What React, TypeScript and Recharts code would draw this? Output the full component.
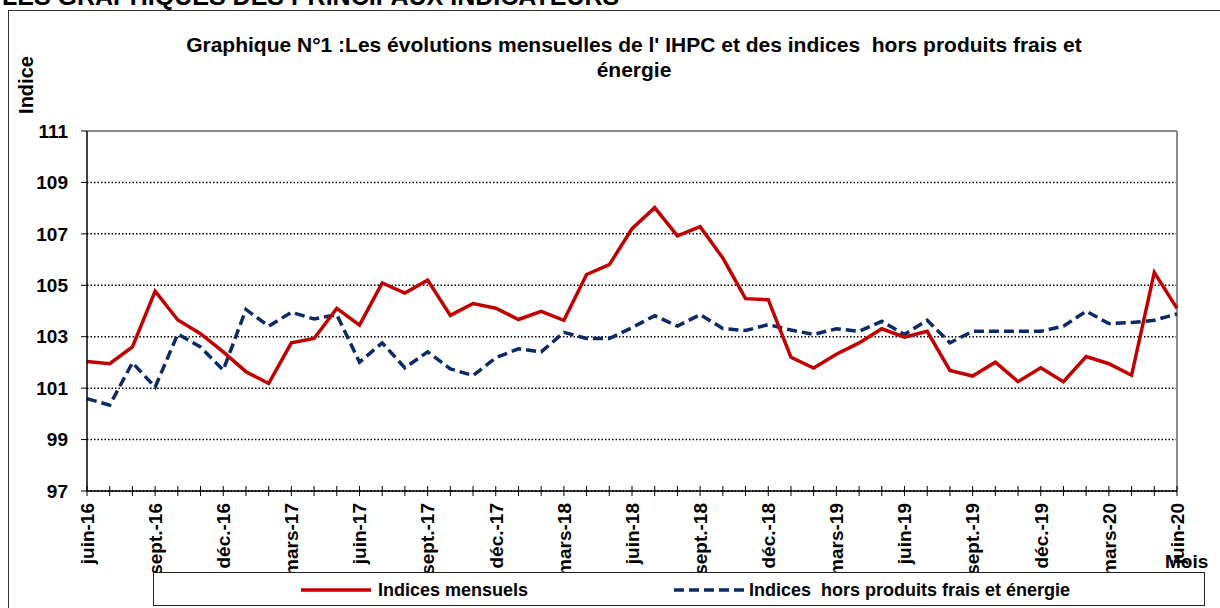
import React from "react";
import { LineChart, Line, XAxis, YAxis, CartesianGrid, ReferenceLine } from "recharts";

const months = [
  "juin-16", "juil.-16", "août-16", "sept.-16", "oct.-16", "nov.-16", "déc.-16",
  "janv.-17", "févr.-17", "mars-17", "avr.-17", "mai-17", "juin-17", "juil.-17", "août-17", "sept.-17", "oct.-17", "nov.-17", "déc.-17",
  "janv.-18", "févr.-18", "mars-18", "avr.-18", "mai-18", "juin-18", "juil.-18", "août-18", "sept.-18", "oct.-18", "nov.-18", "déc.-18",
  "janv.-19", "févr.-19", "mars-19", "avr.-19", "mai-19", "juin-19", "juil.-19", "août-19", "sept.-19", "oct.-19", "nov.-19", "déc.-19",
  "janv.-20", "févr.-20", "mars-20", "avr.-20", "mai-20", "juin-20",
];

const indicesMensuels = [
  102.04, 101.95, 102.6, 104.77, 103.65, 103.12, 102.41, 101.64, 101.18, 102.76, 102.93, 104.1, 103.45, 105.09, 104.7, 105.2, 103.83,
  104.29, 104.11, 103.67, 103.99, 103.64, 105.42, 105.8, 107.2, 108.02, 106.92, 107.28, 106.06, 104.48, 104.44, 102.2, 101.78,
  102.32, 102.76, 103.31, 102.98, 103.21, 101.69, 101.47, 102.01, 101.25, 101.79, 101.25, 102.23, 101.95, 101.5, 105.5, 104.1,
];

const indicesHorsPFE = [
  100.59, 100.34, 101.99, 101.04, 103.11, 102.6, 101.7, 104.06, 103.41, 103.95, 103.69, 103.86, 102.01, 102.76, 101.79, 102.41, 101.75,
  101.49, 102.18, 102.53, 102.41, 103.17, 102.93, 102.93, 103.35, 103.82, 103.41, 103.86, 103.32, 103.24, 103.47, 103.26, 103.09,
  103.31, 103.21, 103.6, 103.09, 103.64, 102.76, 103.21, 103.21, 103.21, 103.21, 103.41, 103.99, 103.51, 103.55, 103.64, 103.89,
];

const yTicks = [97, 99, 101, 103, 105, 107, 109, 111];

const seriesNames = ["Indices mensuels", "Indices  hors produits frais et énergie"];

const data = months.map((m, i) => ({
  mois: m,
  mensuel: indicesMensuels[i],
  hors: indicesHorsPFE[i],
}));

const FONT = "'Liberation Sans', Arial, sans-serif";
const RED = "#C00000";
const BLUE = "#0B2A66";

const XTick = (props: any) => {
  const { x, y, payload } = props;
  const idx = months.indexOf(payload.value);
  const ty = y + 12;
  return (
    <g>
      <line x1={x} x2={x} y1={y - 5} y2={y + 5} stroke="#000" strokeWidth={1} />
      {idx % 3 === 0 && (
        <text
          x={x}
          y={ty}
          dy="0.36em"
          textAnchor="end"
          transform={`rotate(-90, ${x}, ${ty})`}
          fontFamily={FONT}
          fontWeight="bold"
          fontSize={19}
          fill="#000"
        >
          {payload.value}
        </text>
      )}
    </g>
  );
};

export default function App() {
  return (
    <div
      style={{
        position: "absolute",
        left: 0,
        top: 0,
        width: 1220,
        height: 608,
        overflow: "hidden",
        background: "#fff",
        fontFamily: FONT,
      }}
    >
      <div
        style={{
          position: "absolute",
          left: 2,
          top: -16,
          fontSize: 25,
          fontWeight: "bold",
          lineHeight: "1",
          whiteSpace: "nowrap",
          color: "#000",
        }}
      >
        LES GRAPHIQUES DES PRINCIPAUX INDICATEURS
      </div>
      <div
        style={{
          position: "absolute",
          left: 8,
          top: 10,
          width: 1400,
          height: 800,
          border: "1px solid #333",
        }}
      />
      <div style={{ position: "absolute", left: 0, top: 0 }}>
        <LineChart
          width={1220}
          height={608}
          data={data}
          margin={{ top: 131, right: 43, left: 27, bottom: 57 }}
        >
          <CartesianGrid
            horizontal={true}
            vertical={false}
            stroke="#000"
            strokeWidth={1.5}
            strokeDasharray="1.5 2"
          />
          <XAxis
            dataKey="mois"
            interval={0}
            height={60}
            tickSize={0}
            tickMargin={0}
            tickLine={false}
            axisLine={{ stroke: "#000", strokeWidth: 1.5 }}
            tick={<XTick />}
          />
          <YAxis
            domain={[97, 111]}
            ticks={yTicks}
            interval={0}
            width={60}
            tickSize={6}
            tickMargin={13}
            axisLine={{ stroke: "#000", strokeWidth: 1.5 }}
            tickLine={{ stroke: "#000" }}
            tick={{ fill: "#000", fontSize: 19, fontWeight: "bold", fontFamily: FONT }}
          />
          <ReferenceLine y={111} stroke="#8a8a8a" strokeWidth={2} />
          <ReferenceLine x="juin-20" stroke="#8a8a8a" strokeWidth={2} />
          <Line
            type="linear"
            dataKey="hors"
            name={seriesNames[1]}
            stroke={BLUE}
            strokeWidth={3.5}
            strokeDasharray="10 5"
            dot={false}
            isAnimationActive={false}
          />
          <Line
            type="linear"
            dataKey="mensuel"
            name={seriesNames[0]}
            stroke={RED}
            strokeWidth={3.5}
            dot={false}
            isAnimationActive={false}
          />
        </LineChart>
      </div>
      <div
        style={{
          position: "absolute",
          left: 134,
          width: 1000,
          top: 32,
          textAlign: "center",
          fontSize: 21,
          fontWeight: "bold",
          lineHeight: "25px",
          whiteSpace: "pre",
          color: "#000",
        }}
      >
        {"Graphique N°1 :Les évolutions mensuelles de l' IHPC et des indices  hors produits frais et"}
        <br />
        {"énergie"}
      </div>
      <div
        style={{
          position: "absolute",
          left: 26,
          top: 85,
          transform: "translate(-50%, -50%) rotate(-90deg)",
          fontSize: 20,
          fontWeight: "bold",
          whiteSpace: "nowrap",
          color: "#000",
        }}
      >
        Indice
      </div>
      <div
        style={{
          position: "absolute",
          left: 153,
          top: 572,
          width: 1052,
          height: 34,
          border: "1px solid #222",
          background: "#fff",
          boxSizing: "border-box",
        }}
      >
        <svg width={1052} height={34} style={{ position: "absolute", left: 0, top: 0 }}>
          <line x1={147} x2={217} y1={17} y2={17} stroke={RED} strokeWidth={3.5} />
          <line x1={520} x2={590} y1={17} y2={17} stroke={BLUE} strokeWidth={3.5} strokeDasharray="10 5" />
          <text x={224} y={17} dy="0.36em" fontFamily={FONT} fontWeight="bold" fontSize={18} fill="#000">
            {seriesNames[0]}
          </text>
          <text x={595} y={17} dy="0.36em" fontFamily={FONT} fontWeight="bold" fontSize={18} fill="#000" style={{ whiteSpace: "pre" }}>
            {seriesNames[1]}
          </text>
        </svg>
      </div>
      <div
        style={{
          position: "absolute",
          left: 1165,
          top: 551,
          fontSize: 19,
          fontWeight: "bold",
          lineHeight: "22px",
          whiteSpace: "nowrap",
          color: "#000",
        }}
      >
        Mois
      </div>
    </div>
  );
}
